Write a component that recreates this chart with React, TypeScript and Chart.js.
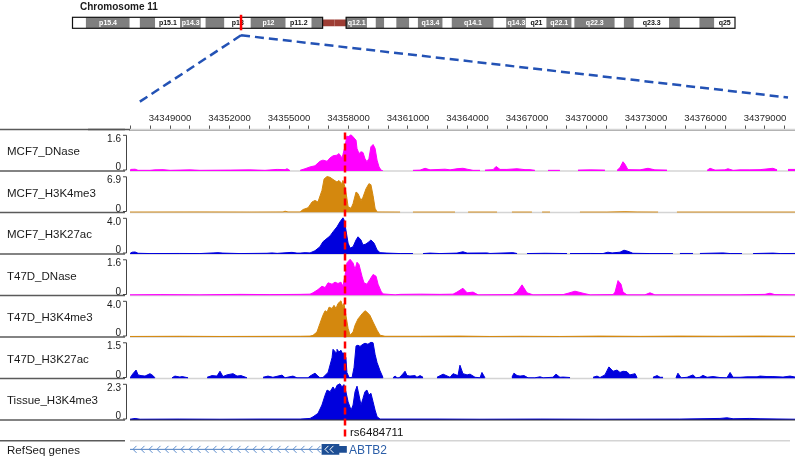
import React, { useEffect, useRef } from 'react';
import { Chart, registerables } from 'chart.js';

Chart.register(...registerables);

const FONT = '"Liberation Sans", Arial, Helvetica, sans-serif';

// ---------- view window & ruler ----------
const VIEW_START = 34346983;
const VIEW_END = 34380513;
const RULER_LABELS = [34349000, 34352000, 34355000, 34358000, 34361000, 34364000, 34367000, 34370000, 34373000, 34376000, 34379000];
const RULER_MINOR_STEP = 1000;

// ---------- chromosome ideogram (Mb) ----------
const CHROM_TITLE = 'Chromosome 11';
const CHROM_LENGTH_MB = 135.086622;
const BAND_NAMES = ['p15.5', 'p15.4', 'p15.3', 'p15.2', 'p15.1', 'p14.3', 'p14.2', 'p14.1', 'p13', 'p12', 'p11.2', 'p11.12', 'p11.11', 'q11', 'q12.1', 'q12.2', 'q12.3', 'q13.1', 'q13.2', 'q13.3', 'q13.4', 'q13.5', 'q14.1', 'q14.2', 'q14.3', 'q21', 'q22.1', 'q22.2', 'q22.3', 'q23.1', 'q23.2', 'q23.3', 'q24.1', 'q24.2', 'q24.3', 'q25'];
const BAND_START_MB = [0, 2.8, 11.7, 13.8, 16.9, 22.0, 26.2, 27.2, 31.0, 36.4, 43.5, 48.8, 51.0, 53.4, 55.8, 60.1, 61.9, 63.6, 66.1, 68.7, 70.5, 75.5, 77.4, 85.9, 88.5, 92.5, 96.7, 101.8, 102.4, 110.6, 112.5, 114.5, 121.7, 123.9, 127.9, 130.9];
const BAND_END_MB = [2.8, 11.7, 13.8, 16.9, 22.0, 26.2, 27.2, 31.0, 36.4, 43.5, 48.8, 51.0, 53.4, 55.8, 60.1, 61.9, 63.6, 66.1, 68.7, 70.5, 75.5, 77.4, 85.9, 88.5, 92.5, 96.7, 101.8, 102.4, 110.6, 112.5, 114.5, 121.7, 123.9, 127.9, 130.9, 135.086622];
const BAND_STAIN = ['gneg', 'gpos', 'gneg', 'gpos', 'gneg', 'gpos', 'gneg', 'gpos', 'gneg', 'gpos', 'gneg', 'gpos', 'acen', 'acen', 'gpos', 'gneg', 'gpos', 'gneg', 'gpos', 'gneg', 'gpos', 'gneg', 'gpos', 'gneg', 'gpos', 'gneg', 'gpos', 'gneg', 'gpos', 'gneg', 'gpos', 'gneg', 'gpos', 'gneg', 'gpos', 'gneg'];
const IDEOGRAM_LABELS = ['p15.4', 'p15.1', 'p14.3', 'p13', 'p12', 'p11.2', 'q12.1', 'q13.4', 'q14.1', 'q14.3', 'q21', 'q22.1', 'q22.3', 'q23.3', 'q25'];

// ---------- tracks ----------
const TRACK_NAMES = ['MCF7_DNase', 'MCF7_H3K4me3', 'MCF7_H3K27ac', 'T47D_DNase', 'T47D_H3K4me3', 'T47D_H3K27ac', 'Tissue_H3K4me3'];
const TRACK_MAX = [1.6, 6.9, 4.0, 1.6, 4.0, 1.5, 2.3];
const TRACK_COLORS = ['#ff00ff', '#d4880e', '#0000dd', '#ff00ff', '#d4880e', '#0000dd', '#0000dd'];

type P = [number, number | null];

const MCF7_DNASE: P[] = [
  [34346980, 0.03], [34347030, 0.07], [34347240, 0.08], [34347390, 0.03], [34347990, 0.03], [34348240, 0.05],
  [34348650, 0.06], [34349000, 0.03], [34350010, 0.05], [34350510, 0.03], [34352030, 0.04], [34353030, 0.05],
  [34353790, 0.03], [34354400, 0.07], [34354800, 0.06], [34354900, 0.1], [34355050, 0.02], [34355300, null],
  [34355560, 0.03], [34355810, 0.1], [34356060, 0.18], [34356310, 0.23], [34356560, 0.43], [34356710, 0.48],
  [34356920, 0.43], [34357070, 0.58], [34357220, 0.67], [34357420, 0.7], [34357520, 0.77], [34357670, 0.58],
  [34357720, 0.73], [34357820, 1.07], [34357920, 1.55], [34357980, 1.51], [34358130, 1.6], [34358230, 1.51],
  [34358380, 1.36], [34358430, 0.99], [34358530, 0.77], [34358630, 0.85], [34358730, 0.82], [34358830, 0.55],
  [34358930, 0.41], [34359030, 0.55], [34359130, 1.07], [34359240, 1.17], [34359340, 1.0], [34359440, 0.48],
  [34359540, 0.18], [34359640, 0.04], [34359740, 0], [34360500, null], [34361250, 0.03], [34361610, 0.04],
  [34361860, 0.12], [34362110, 0.05], [34362870, 0.08], [34363120, 0.05], [34363470, 0.1], [34363770, 0.12],
  [34363980, 0.08], [34364280, 0.03], [34364630, 0.03], [34364780, null], [34364880, 0.04], [34365290, 0.06],
  [34365440, 0.2], [34365640, 0.07], [34365990, 0.07], [34366500, 0.1], [34366900, 0.06], [34367150, 0.06],
  [34367400, 0.03], [34367710, null], [34368060, 0.03], [34368660, 0.03], [34369120, null], [34369570, 0.04],
  [34370180, 0.05], [34370930, 0.04], [34371240, null], [34371540, 0.03], [34371690, 0.15], [34371840, 0.41],
  [34371940, 0.3], [34372090, 0.06], [34372700, 0.05], [34373100, 0.12], [34373450, 0.05], [34374060, 0.04],
  [34375120, null], [34376080, 0.03], [34376230, 0.12], [34376480, 0.04], [34376980, 0.05], [34377130, 0.1],
  [34377390, 0.03], [34377740, 0.05], [34378240, 0.05], [34378750, 0.06], [34379400, 0.12], [34379610, 0.05],
  [34379910, null], [34380160, 0.07], [34380520, 0.07],
];

const MCF7_H3K4ME3: P[] = [
  [34346980, 0.08], [34350510, 0.1], [34353030, 0.08], [34354700, 0.1], [34354800, 0.25], [34354950, 0.1],
  [34355560, 0.1], [34355710, 0.57], [34355960, 0.9], [34356160, 2.0], [34356310, 2.3], [34356460, 2.0],
  [34356660, 4.2], [34356770, 6.4], [34356920, 6.85], [34357070, 6.7], [34357220, 6.3], [34357420, 5.8],
  [34357520, 6.1], [34357670, 5.5], [34357720, 6.1], [34357820, 4.9], [34357920, 2.7], [34357980, 1.1],
  [34358130, 0.8], [34358230, 1.7], [34358380, 3.9], [34358480, 3.6], [34358630, 2.3], [34358730, 2.9],
  [34358880, 4.5], [34359030, 5.5], [34359130, 5.3], [34359240, 3.2], [34359340, 0.8], [34359440, 0.1],
  [34360600, 0.08], [34360900, null], [34361250, 0.08], [34363370, 0.08], [34363670, null], [34364030, 0.08],
  [34365490, 0.08], [34365840, null], [34366240, 0.08], [34367250, 0.08], [34367500, null], [34367760, 0.08],
  [34368160, 0.08], [34368920, null], [34369670, 0.08], [34371030, 0.08], [34371940, 0.15], [34372550, 0.1],
  [34373610, 0.08], [34374110, null], [34374560, 0.08], [34376380, 0.08], [34379000, 0.08], [34380520, 0.08],
];

const MCF7_H3K27AC: P[] = [
  [34346980, 0.05], [34347090, 0.2], [34347240, 0.22], [34347390, 0.08], [34347990, 0.05], [34349500, 0.06],
  [34350510, 0.05], [34351170, 0.12], [34351420, 0.15], [34351670, 0.1], [34352530, 0.05], [34353890, 0.08],
  [34354140, 0.12], [34354400, 0.07], [34354900, 0.15], [34355150, 0.18], [34355400, 0.1], [34355560, 0.1],
  [34355810, 0.15], [34356060, 0.12], [34356310, 0.36], [34356560, 0.8], [34356710, 1.35], [34356920, 1.73],
  [34357070, 2.0], [34357220, 2.45], [34357420, 3.0], [34357570, 3.55], [34357720, 4.0], [34357770, 3.8],
  [34357870, 2.65], [34357980, 1.2], [34358080, 0.65], [34358230, 0.8], [34358380, 1.55], [34358480, 1.9],
  [34358630, 1.55], [34358730, 1.0], [34358880, 1.1], [34359030, 1.35], [34359130, 1.55], [34359290, 1.2],
  [34359440, 0.45], [34359590, 0.15], [34359940, 0.1], [34360600, 0.05], [34361250, 0.05], [34361450, null],
  [34361760, 0.05], [34362110, 0.1], [34362610, 0.05], [34363470, 0.1], [34363770, 0.25], [34363980, 0.1],
  [34364980, 0.12], [34365130, 0.06], [34366290, 0.15], [34366500, 0.05], [34366750, null], [34367000, 0.05],
  [34367910, 0.08], [34369020, 0.05], [34369070, null], [34369170, 0.05], [34370180, 0.06], [34370830, 0.05],
  [34371080, 0.2], [34371290, 0.12], [34371690, 0.2], [34371890, 0.42], [34372090, 0.3], [34372340, 0.08],
  [34373200, 0.05], [34374360, 0.05], [34374510, null], [34374710, 0.06], [34375370, 0.06], [34375570, null],
  [34375720, 0.06], [34376880, 0.12], [34377240, 0.05], [34377840, 0.05], [34378090, null], [34378400, 0.05],
  [34379400, 0.1], [34379760, 0.05], [34380520, 0.06],
];

const T47D_DNASE: P[] = [
  [34346980, 0.03], [34348500, 0.04], [34350510, 0.03], [34352530, 0.05], [34354040, 0.04], [34355560, 0.05],
  [34356060, 0.06], [34356210, 0.12], [34356460, 0.26], [34356660, 0.41], [34356820, 0.35], [34356970, 0.56],
  [34357170, 0.5], [34357320, 0.59], [34357470, 0.53], [34357620, 0.59], [34357720, 0.41], [34357820, 0.85],
  [34357920, 1.44], [34358080, 1.6], [34358230, 1.44], [34358330, 1.15], [34358430, 1.47], [34358530, 1.37],
  [34358680, 0.85], [34358780, 0.56], [34358930, 0.5], [34359080, 0.71], [34359240, 0.93], [34359390, 0.85],
  [34359490, 0.5], [34359640, 0.19], [34359740, 0.07], [34360350, 0.03], [34360600, 0.05], [34361610, 0.06],
  [34362610, 0.05], [34363270, 0.06], [34363470, 0.15], [34363770, 0.32], [34363980, 0.12], [34364280, 0.15],
  [34364530, 0.03], [34366290, 0.04], [34366500, 0.15], [34366750, 0.47], [34367000, 0.12], [34367300, 0.03],
  [34368820, 0.04], [34369070, 0.1], [34369420, 0.19], [34369920, 0.08], [34370180, 0.03], [34371340, 0.04],
  [34371440, 0.15], [34371590, 0.66], [34371740, 0.5], [34371840, 0.15], [34372040, 0.03], [34372950, 0.03],
  [34373200, 0.12], [34373450, 0.03], [34375720, 0.03], [34377740, 0.03], [34379000, 0.05], [34379250, 0.1],
  [34379500, 0.04], [34380520, 0.03],
];

const T47D_H3K4ME3: P[] = [
  [34346980, 0.06], [34349500, 0.08], [34351520, 0.06], [34353540, 0.07], [34355560, 0.08], [34356060, 0.1],
  [34356210, 0.18], [34356410, 0.55], [34356560, 1.5], [34356710, 2.4], [34356820, 2.9], [34356920, 2.75],
  [34357020, 3.3], [34357170, 3.15], [34357270, 3.5], [34357370, 3.15], [34357470, 3.7], [34357620, 4.0],
  [34357720, 3.3], [34357770, 3.7], [34357870, 2.4], [34357980, 0.95], [34358080, 0.2], [34358230, 0.55],
  [34358330, 1.3], [34358480, 2.0], [34358680, 2.55], [34358830, 2.9], [34358930, 2.75], [34359080, 2.4],
  [34359240, 1.65], [34359440, 0.75], [34359590, 0.2], [34359840, 0.08], [34361610, 0.08], [34363620, 0.1],
  [34365130, 0.06], [34366650, 0.08], [34368660, 0.06], [34370680, 0.1], [34372700, 0.07], [34374710, 0.1],
  [34376730, 0.08], [34378750, 0.1], [34380520, 0.08],
];

const T47D_H3K27AC: P[] = [
  [34346980, 0.02], [34347130, 0.2], [34347290, 0.35], [34347390, 0.15], [34347540, 0.12], [34347740, 0.1],
  [34347990, 0.2], [34348140, 0.12], [34348240, 0.03], [34348650, null], [34349100, 0.03], [34349250, 0.1],
  [34349500, 0.06], [34349610, 0.08], [34349910, 0.03], [34350360, null], [34350870, 0.05], [34351120, 0.12],
  [34351370, 0.1], [34351520, 0.3], [34351670, 0.08], [34351870, 0.15], [34352180, 0.2], [34352380, 0.1],
  [34352580, 0.12], [34352880, 0.03], [34353290, null], [34353690, 0.05], [34353940, 0.1], [34354190, 0.05],
  [34354650, 0.14], [34354800, 0.03], [34355200, 0.1], [34355400, 0.03], [34355960, 0.03], [34356060, 0.1],
  [34356310, 0.22], [34356460, 0.1], [34356560, 0.03], [34356710, 0.04], [34356970, 0.25], [34357170, 0.86],
  [34357220, 1.21], [34357370, 1.07], [34357420, 1.21], [34357520, 1.1], [34357620, 1.17], [34357720, 1.0],
  [34357770, 1.07], [34357870, 0.86], [34357920, 0.25], [34358030, 0.04], [34358180, 0.04], [34358280, 0.46],
  [34358380, 1.35], [34358480, 1.38], [34358580, 1.33], [34358730, 1.42], [34358830, 1.46], [34358980, 1.42],
  [34359130, 1.5], [34359240, 1.48], [34359340, 1.0], [34359440, 0.66], [34359590, 0.32], [34359740, 0.04],
  [34359990, null], [34360240, 0.03], [34360350, 0.1], [34360450, 0.03], [34360550, 0.03], [34360700, 0.15],
  [34360850, 0.3], [34360950, 0.12], [34361100, 0.1], [34361350, 0.12], [34361450, 0.05], [34361610, 0.12],
  [34361760, 0.05], [34362110, null], [34362460, 0.05], [34362770, 0.18], [34363120, 0.05], [34363270, 0.2],
  [34363520, 0.12], [34363620, 0.55], [34363770, 0.2], [34363980, 0.15], [34364130, 0.18], [34364380, 0.05],
  [34364630, 0.03], [34364730, 0.25], [34364880, 0.03], [34365540, null], [34366240, 0.05], [34366340, 0.22],
  [34366500, 0.12], [34366650, 0.1], [34366850, 0.12], [34367050, 0.03], [34367400, 0.03], [34367660, 0.07],
  [34367810, 0.03], [34368310, 0.05], [34368460, 0.18], [34368660, 0.05], [34368820, 0.06], [34369170, 0.04],
  [34369770, null], [34370330, 0.05], [34370530, 0.1], [34370680, 0.04], [34370930, 0.15], [34371130, 0.48],
  [34371340, 0.3], [34371540, 0.35], [34371690, 0.25], [34371840, 0.3], [34372040, 0.28], [34372190, 0.15],
  [34372450, 0.2], [34372550, 0.03], [34372950, null], [34373350, 0.05], [34373560, 0.12], [34373710, 0.05],
  [34373860, 0.05], [34374210, null], [34374510, 0.03], [34374610, 0.22], [34374770, 0.03], [34375070, 0.05],
  [34375370, 0.15], [34375520, 0.03], [34375720, 0.05], [34375870, 0.13], [34376080, 0.05], [34376380, 0.08],
  [34376730, 0.04], [34377080, 0.03], [34377240, 0.25], [34377390, 0.05], [34377740, 0.05], [34378090, 0.07],
  [34378600, 0.07], [34378750, 0.1], [34379100, 0.08], [34379400, 0.08], [34379910, 0.06], [34380260, 0.1],
  [34380520, 0.06],
];

const TISSUE_H3K4ME3: P[] = [
  [34346980, 0.05], [34347240, 0.1], [34347490, 0.05], [34349500, 0.06], [34351520, 0.05], [34353540, 0.06],
  [34355560, 0.06], [34356060, 0.1], [34356210, 0.2], [34356460, 0.42], [34356660, 0.95], [34356820, 1.58],
  [34356920, 1.9], [34357070, 1.8], [34357220, 2.1], [34357320, 1.9], [34357420, 2.2], [34357570, 2.3],
  [34357670, 2.1], [34357770, 2.25], [34357870, 1.8], [34357980, 1.15], [34358130, 0.63], [34358230, 0.95],
  [34358330, 1.8], [34358430, 2.15], [34358530, 1.58], [34358630, 0.95], [34358730, 1.37], [34358830, 1.8],
  [34358930, 1.9], [34359030, 1.58], [34359130, 1.7], [34359240, 1.15], [34359340, 0.63], [34359440, 0.21],
  [34359590, 0.06], [34362610, 0.06], [34364630, 0.05], [34367660, 0.06], [34370680, 0.05], [34374710, 0.06],
  [34376730, 0.1], [34377080, 0.14], [34377390, 0.08], [34378240, 0.1], [34378750, 0.08], [34380520, 0.05],
];

const TRACK_DATA = [MCF7_DNASE, MCF7_H3K4ME3, MCF7_H3K27AC, T47D_DNASE, T47D_H3K4ME3, T47D_H3K27AC, TISSUE_H3K4ME3];

// ---------- SNP & gene ----------
const RS_ID = 'rs6484711';
const RS_POS = 34357824;
const GENE_TRACK_LABEL = 'RefSeq genes';
const GENE_NAME = 'ABTB2';
const GENE_INTRON = [34172535, 34356660];
const GENE_CDS = [34356660, 34357520];
const GENE_UTR = [34357520, 34357900];

function hline(ctx: any, x0: number, x1: number, y: number, color: string, w: number) {
  ctx.strokeStyle = color;
  ctx.lineWidth = w;
  ctx.beginPath();
  ctx.moveTo(x0, y);
  ctx.lineTo(x1, y);
  ctx.stroke();
}

function chevron(ctx: any, cx: number, cy: number, color: string) {
  ctx.strokeStyle = color;
  ctx.lineWidth = 1;
  ctx.beginPath();
  ctx.moveTo(cx + 2.5, cy - 3.5);
  ctx.lineTo(cx - 1, cy);
  ctx.lineTo(cx + 2.5, cy + 3.5);
  ctx.stroke();
}

const ideoDecor = {
  id: 'ideoDecor',
  afterDatasetsDraw(chart: any) {
    const ctx = chart.ctx;
    const a = chart.chartArea;
    const sx = chart.scales.x;
    const px = (v: number) => sx.getPixelForValue(v);
    ctx.save();
    const acen = BAND_STAIN.map((s, i) => (s === 'acen' ? i : -1)).filter((i) => i >= 0);
    const cenStart = BAND_START_MB[acen[0]];
    const cenEnd = BAND_END_MB[acen[acen.length - 1]];
    ctx.strokeStyle = '#111';
    ctx.lineWidth = 1.2;
    ctx.strokeRect(px(0), a.top, px(cenStart) - px(0), a.bottom - a.top);
    ctx.strokeRect(px(cenEnd), a.top, px(CHROM_LENGTH_MB) - px(cenEnd), a.bottom - a.top);
    ctx.font = `bold 7px ${FONT}`;
    ctx.textAlign = 'center';
    ctx.textBaseline = 'middle';
    BAND_NAMES.forEach((n, i) => {
      if (!IDEOGRAM_LABELS.includes(n)) return;
      const cx = (px(BAND_START_MB[i]) + px(BAND_END_MB[i])) / 2;
      ctx.fillStyle = BAND_STAIN[i] === 'gneg' ? '#111' : '#fff';
      ctx.fillText(n, cx, (a.top + a.bottom) / 2 + 0.5);
    });
    const lx = px((VIEW_START + VIEW_END) / 2 / 1e6);
    ctx.strokeStyle = '#ff0000';
    ctx.lineWidth = 2.5;
    ctx.beginPath();
    ctx.moveTo(lx, a.top - 2.5);
    ctx.lineTo(lx, a.bottom + 2);
    ctx.stroke();
    ctx.fillStyle = '#1a1a1a';
    ctx.font = `bold 10px ${FONT}`;
    ctx.textAlign = 'left';
    ctx.fillText(CHROM_TITLE, 80, 7);
    ctx.restore();
  },
};

function makeMainDecor(ideo: any) {
  return {
    id: 'igvDecor',
    beforeDatasetsDraw(chart: any) {
      const ctx = chart.ctx;
      const area = chart.chartArea;
      ctx.save();
      const tops = TRACK_NAMES.map((_, i) => chart.scales['y' + i].top);
      tops.push(chart.scales.ygene.top);
      tops.forEach((y: number) => {
        hline(ctx, 0, area.left - 5, y, '#5a5a5a', 1.5);
        hline(ctx, area.left, area.right - (y === chart.scales.ygene.top ? 5 : 0), y, '#d4d4d4', 1.5);
      });
      ctx.restore();
    },
    afterDatasetsDraw(chart: any) {
      const ctx = chart.ctx;
      const area = chart.chartArea;
      const sx = chart.scales.x;
      ctx.save();
      // ruler line extension
      hline(ctx, area.left - 42, area.left, area.top, '#555', 1.5);
      // bottom of last track
      const last = chart.scales['y' + (TRACK_NAMES.length - 1)];
      hline(ctx, 0, area.left - 5, last.bottom, '#5a5a5a', 1.5);
      hline(ctx, area.left, area.right, last.bottom, '#333', 1.2);

      // track names, data-range brackets
      TRACK_NAMES.forEach((name, i) => {
        const s = chart.scales['y' + i];
        const yMax = s.getPixelForValue(TRACK_MAX[i]);
        const y0 = s.getPixelForValue(0);
        ctx.fillStyle = '#1a1a1a';
        ctx.font = `11.5px ${FONT}`;
        ctx.textAlign = 'left';
        ctx.textBaseline = 'middle';
        ctx.fillText(name, 7, (s.top + s.bottom) / 2 + 2);
        const bx = area.left - 4;
        ctx.strokeStyle = '#444';
        ctx.lineWidth = 1;
        ctx.beginPath();
        ctx.moveTo(bx - 3, yMax + 0.5);
        ctx.lineTo(bx + 0.5, yMax + 0.5);
        ctx.lineTo(bx + 0.5, y0 - 1);
        ctx.lineTo(bx - 3, y0 - 1);
        ctx.stroke();
        ctx.font = `10px ${FONT}`;
        ctx.textAlign = 'right';
        ctx.fillText(TRACK_MAX[i].toFixed(1), bx - 5, yMax + 4);
        ctx.fillText('0', bx - 5, y0 - 3.5);
      });

      // SNP marker
      const rs = chart.scales.yrs;
      const rx = sx.getPixelForValue(RS_POS);
      ctx.setLineDash([7, 4]);
      ctx.strokeStyle = '#ff0000';
      ctx.lineWidth = 2.5;
      ctx.beginPath();
      ctx.moveTo(rx, area.top + 3);
      ctx.lineTo(rx, rs.bottom - 4);
      ctx.stroke();
      ctx.setLineDash([]);
      ctx.fillStyle = '#111';
      ctx.font = `11.5px ${FONT}`;
      ctx.textAlign = 'left';
      ctx.textBaseline = 'middle';
      ctx.fillText(RS_ID, rx + 5, (rs.top + rs.bottom) / 2 + 2);

      // gene track
      const g = chart.scales.ygene;
      const gy = g.getPixelForValue(0);
      ctx.fillStyle = '#1a1a1a';
      ctx.fillText(GENE_TRACK_LABEL, 7, gy + 1);
      const gx0 = Math.max(sx.getPixelForValue(GENE_INTRON[0]), area.left) + 4;
      const gx1 = sx.getPixelForValue(GENE_INTRON[1]) - 3;
      for (let cx = gx0; cx < gx1; cx += 8) chevron(ctx, cx, gy, '#5b8ccc');
      const ex0 = sx.getPixelForValue(GENE_CDS[0]);
      const ex1 = sx.getPixelForValue(GENE_CDS[1]);
      for (let cx = ex0 + 4; cx < ex1 - 6; cx += 5) chevron(ctx, cx, gy, '#ffffff');
      ctx.fillStyle = '#2b5ea8';
      ctx.font = `12px ${FONT}`;
      ctx.fillText(GENE_NAME, sx.getPixelForValue(GENE_UTR[1]) + 2.5, gy + 1);

      // zoom lines from the ideogram locus
      if (ideo && ideo.scales && ideo.scales.x) {
        const ix = ideo.scales.x.getPixelForValue((VIEW_START + VIEW_END) / 2 / 1e6);
        const iy = ideo.chartArea.bottom + 7;
        ctx.setLineDash([9, 5]);
        ctx.strokeStyle = '#2352b5';
        ctx.lineWidth = 2.5;
        ctx.beginPath();
        ctx.moveTo(ix, iy);
        ctx.lineTo(area.left + 7, area.top - 26);
        ctx.moveTo(ix, iy);
        ctx.lineTo(area.right - 7, area.top - 32);
        ctx.stroke();
        ctx.setLineDash([]);
      }
      ctx.restore();
    },
  };
}

export default function App() {
  const ideoRef = useRef<HTMLCanvasElement>(null);
  const mainRef = useRef<HTMLCanvasElement>(null);

  useEffect(() => {
    const bandIdx = BAND_STAIN.map((s, i) => (s !== 'acen' ? i : -1)).filter((i) => i >= 0);
    const acenIdx = BAND_STAIN.map((s, i) => (s === 'acen' ? i : -1)).filter((i) => i >= 0);
    const ideo = new Chart(ideoRef.current as any, {
      type: 'bar',
      data: {
        labels: ['chr11'],
        datasets: [
          {
            data: bandIdx.map((i) => ({ x: [BAND_START_MB[i], BAND_END_MB[i]], y: 'chr11' })) as any,
            backgroundColor: bandIdx.map((i) => (BAND_STAIN[i] === 'gneg' ? '#ffffff' : '#7f7f7f')),
            borderWidth: 0,
            barPercentage: 1,
            categoryPercentage: 1,
            grouped: false,
          },
          {
            data: acenIdx.map((i) => ({ x: [BAND_START_MB[i], BAND_END_MB[i]], y: 'chr11' })) as any,
            backgroundColor: '#9e3d34',
            borderWidth: 0,
            barPercentage: 0.62,
            categoryPercentage: 1,
            grouped: false,
          },
        ],
      },
      options: {
        indexAxis: 'y',
        responsive: false,
        animation: false,
        devicePixelRatio: 1,
        events: [],
        layout: { padding: { left: 72.5, right: 60, top: 17.3, bottom: 7.7 } },
        scales: {
          x: { type: 'linear', min: 0, max: CHROM_LENGTH_MB, display: false },
          y: { display: false },
        },
        plugins: { legend: { display: false }, tooltip: { enabled: false } },
      } as any,
      plugins: [ideoDecor],
    });

    const scales: any = {
      x: {
        type: 'linear',
        position: 'top',
        min: VIEW_START,
        max: VIEW_END,
        beginAtZero: false,
        afterFit: (s: any) => {
          s.height = 30;
        },
        afterBuildTicks: (s: any) => {
          const t: any[] = [];
          for (let v = Math.ceil(s.min / RULER_MINOR_STEP) * RULER_MINOR_STEP; v <= s.max; v += RULER_MINOR_STEP) t.push({ value: v });
          s.ticks = t;
        },
        ticks: {
          autoSkip: false,
          maxRotation: 0,
          minRotation: 0,
          padding: 1,
          color: '#2a2a2a',
          font: { family: FONT, size: 9.6 },
          callback: (v: any) => (RULER_LABELS.includes(v) ? String(v) : ''),
        },
        grid: { drawOnChartArea: false, drawTicks: true, tickLength: 4, color: '#555', lineWidth: 1 },
        border: { display: true, color: '#555', width: 1.5 },
      },
    };
    TRACK_NAMES.forEach((_, i) => {
      scales['y' + i] = {
        type: 'linear',
        position: 'left',
        stack: 'tracks',
        stackWeight: 41.5,
        weight: 100 - i,
        min: 0,
        max: TRACK_MAX[i] * 1.1464,
        ticks: { display: false },
        grid: { display: false },
        border: { display: false },
        afterFit: (s: any) => {
          s.width = 130;
        },
      };
    });
    scales.yrs = {
      type: 'linear',
      position: 'left',
      stack: 'tracks',
      stackWeight: 20.7,
      weight: 100 - TRACK_NAMES.length,
      min: 0,
      max: 1,
      ticks: { display: false },
      grid: { display: false },
      border: { display: false },
      afterFit: (s: any) => {
        s.width = 130;
      },
    };
    scales.ygene = {
      type: 'category',
      labels: [GENE_NAME],
      position: 'left',
      stack: 'tracks',
      stackWeight: 17.3,
      weight: 100 - TRACK_NAMES.length - 1,
      offset: true,
      ticks: { display: false },
      grid: { display: false },
      border: { display: false },
      afterFit: (s: any) => {
        s.width = 130;
      },
    };

    const datasets: any[] = TRACK_DATA.map((d, i) => ({
      type: 'line',
      data: d.map(([x, y]) => ({ x, y })),
      xAxisID: 'x',
      yAxisID: 'y' + i,
      borderColor: TRACK_COLORS[i],
      backgroundColor: TRACK_COLORS[i],
      borderWidth: 1,
      fill: 'origin',
      pointRadius: 0,
      tension: 0,
      spanGaps: false,
    }));
    datasets.push({
      type: 'line',
      data: [
        { x: GENE_INTRON[0], y: GENE_NAME },
        { x: GENE_INTRON[1], y: GENE_NAME },
      ],
      xAxisID: 'x',
      yAxisID: 'ygene',
      borderColor: '#4f7fc0',
      borderWidth: 1,
      pointRadius: 0,
      fill: false,
    });
    datasets.push({
      type: 'bar',
      indexAxis: 'y',
      data: [{ x: GENE_CDS, y: GENE_NAME }],
      xAxisID: 'x',
      yAxisID: 'ygene',
      backgroundColor: '#1d4e94',
      barThickness: 10,
      grouped: false,
    });
    datasets.push({
      type: 'bar',
      indexAxis: 'y',
      data: [{ x: GENE_UTR, y: GENE_NAME }],
      xAxisID: 'x',
      yAxisID: 'ygene',
      backgroundColor: '#1d4e94',
      barThickness: 6,
      grouped: false,
    });

    const main = new Chart(mainRef.current as any, {
      type: 'line',
      data: { datasets },
      options: {
        responsive: false,
        animation: false,
        devicePixelRatio: 1,
        events: [],
        layout: { padding: { top: 99.5, left: 0, right: 0, bottom: 0 } },
        scales,
        plugins: { legend: { display: false }, tooltip: { enabled: false }, title: { display: false } },
      } as any,
      plugins: [makeMainDecor(ideo)],
    });

    return () => {
      main.destroy();
      ideo.destroy();
    };
  }, []);

  return (
    <div style={{ position: 'fixed', left: 0, top: 0, width: 795, height: 458, background: '#fff' }}>
      <canvas ref={mainRef} width={795} height={458} style={{ position: 'absolute', left: 0, top: 0, width: 795, height: 458 }} />
      <canvas ref={ideoRef} width={795} height={36} style={{ position: 'absolute', left: 0, top: 0, width: 795, height: 36 }} />
    </div>
  );
}
